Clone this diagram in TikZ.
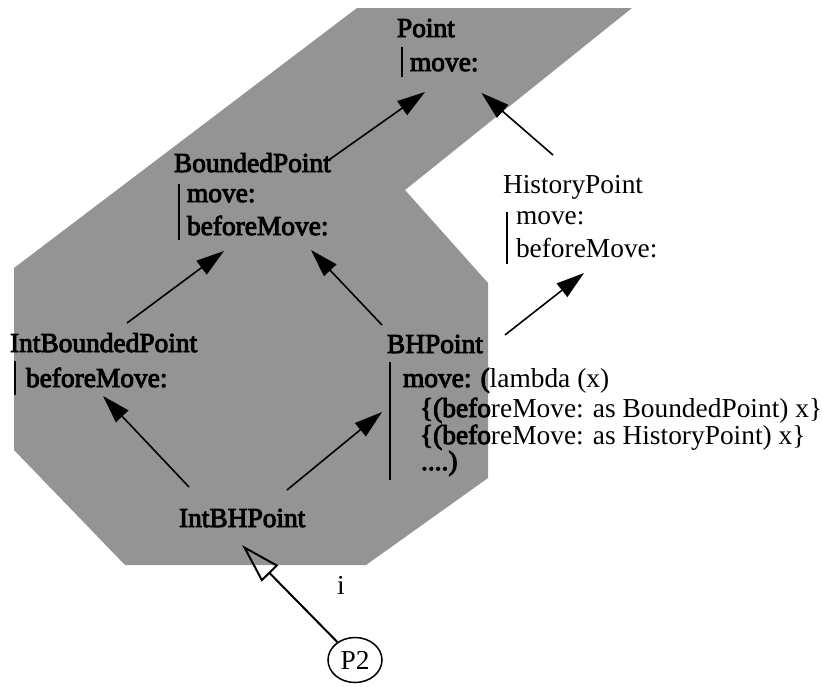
\documentclass[tikz,border=0pt]{standalone}
\usepackage{fontspec}
\setmainfont{Liberation Serif}
\newfontfamily\dkfont[FakeBold=3.5]{Liberation Serif}
\usetikzlibrary{arrows.meta,shapes.geometric}
\tikzset{
  lbl/.style={anchor=base west, inner sep=0pt, outer sep=0pt, font=\fontsize{27.4}{30}\selectfont},
  dk/.style={lbl, font=\fontsize{27.4}{30}\selectfont\dkfont},
  inh/.style={line width=1.6pt, -{Triangle[length=28pt,width=17pt]}},
  inst/.style={line width=2pt, -{Triangle[open,length=40pt,width=23pt]}},
  bar/.style={line width=2pt},
  region/.style={fill=black!42},
  objcircle/.style={draw, ellipse, line width=1.5pt, inner sep=0pt, minimum width=54pt, minimum height=45pt, font=\fontsize{27.4}{30}\selectfont},
}
\begin{document}
\begin{tikzpicture}[x=1pt,y=-1pt]
\useasboundingbox (0,0) rectangle (822,686);

% shaded region holding the classes of P2
\fill[region] (357,8) -- (632,8) -- (405,190) -- (488,283) -- (488,478)
  -- (366,565) -- (125,565) -- (14,450) -- (14,268) -- cycle;

% Point
\node[dk] (pt) at (397,37) {Point};
\node[dk] (ptm) at (410,71) {move:};
\draw[bar] (402,47) -- (402,77);

% BoundedPoint
\node[dk] (bp) at (174,172) {BoundedPoint};
\node[dk] (bpm1) at (187,202) {move:};
\node[dk] (bpm2) at (187,235) {beforeMove:};
\draw[bar] (179,184) -- (179,240);

% HistoryPoint
\node[lbl] (hp) at (503,193) {HistoryPoint};
\node[lbl] (hpm1) at (516,224) {move:};
\node[lbl] (hpm2) at (516,257) {beforeMove:};
\draw[bar] (507,212) -- (507,264);

% IntBoundedPoint
\node[dk] (ibp) at (10,352) {IntBoundedPoint};
\node[dk] (ibpm) at (26,387) {beforeMove:};
\draw[bar] (15,361) -- (15,395);

% BHPoint
\node[dk] (bh) at (387,353) {BHPoint};
\node[lbl] (bhm1) at (403,387) {{\dkfont move: (}lambda (x)};
\node[lbl] (bhm2) at (420,417) {{\dkfont\{(befo}reMove: as BoundedPoint) x\}};
\node[lbl] (bhm3) at (420,444) {{\dkfont\{(befo}reMove: as HistoryPoint) x\}};
\node[dk] (bhm4) at (421,470) {....)};
\draw[bar] (390,362) -- (390,480);

% IntBHPoint
\node[dk] (ibh) at (179,527) {IntBHPoint};

% the object P2 and its instance link
\node[lbl] (inst) at (337,594) {i};
\node[objcircle] (p2) at (355,660) {P2};

% inheritance links
\draw[inh] ([shift={(-2,-12)}]bp.base east) -- ([shift={(15,21)}]ptm.base west);
\draw[inh] ([shift={(50,-38)}]hp.base west) -- ([shift={(3,22)}]ptm.base east);
\draw[inh] ([shift={(117,-29)}]ibp.base west) -- ([shift={(37,16)}]bpm2.base west);
\draw[inh] ([shift={(-5,-28)}]bh.base west) -- ([shift={(124,15)}]bpm2.base west);
\draw[inh] ([shift={(22,-18)}]bh.base east) -- ([shift={(68,16)}]hpm2.base west);
\draw[inh] ([shift={(10,-40)}]ibh.base west) -- ([shift={(77,9)}]ibpm.base west);
\draw[inh] ([shift={(108,-37)}]ibh.base west) -- ([shift={(-21,25)}]bhm1.base west);
\draw[inst] (p2) -- ([shift={(63,18)}]ibh.base west);
\end{tikzpicture}
\end{document}
